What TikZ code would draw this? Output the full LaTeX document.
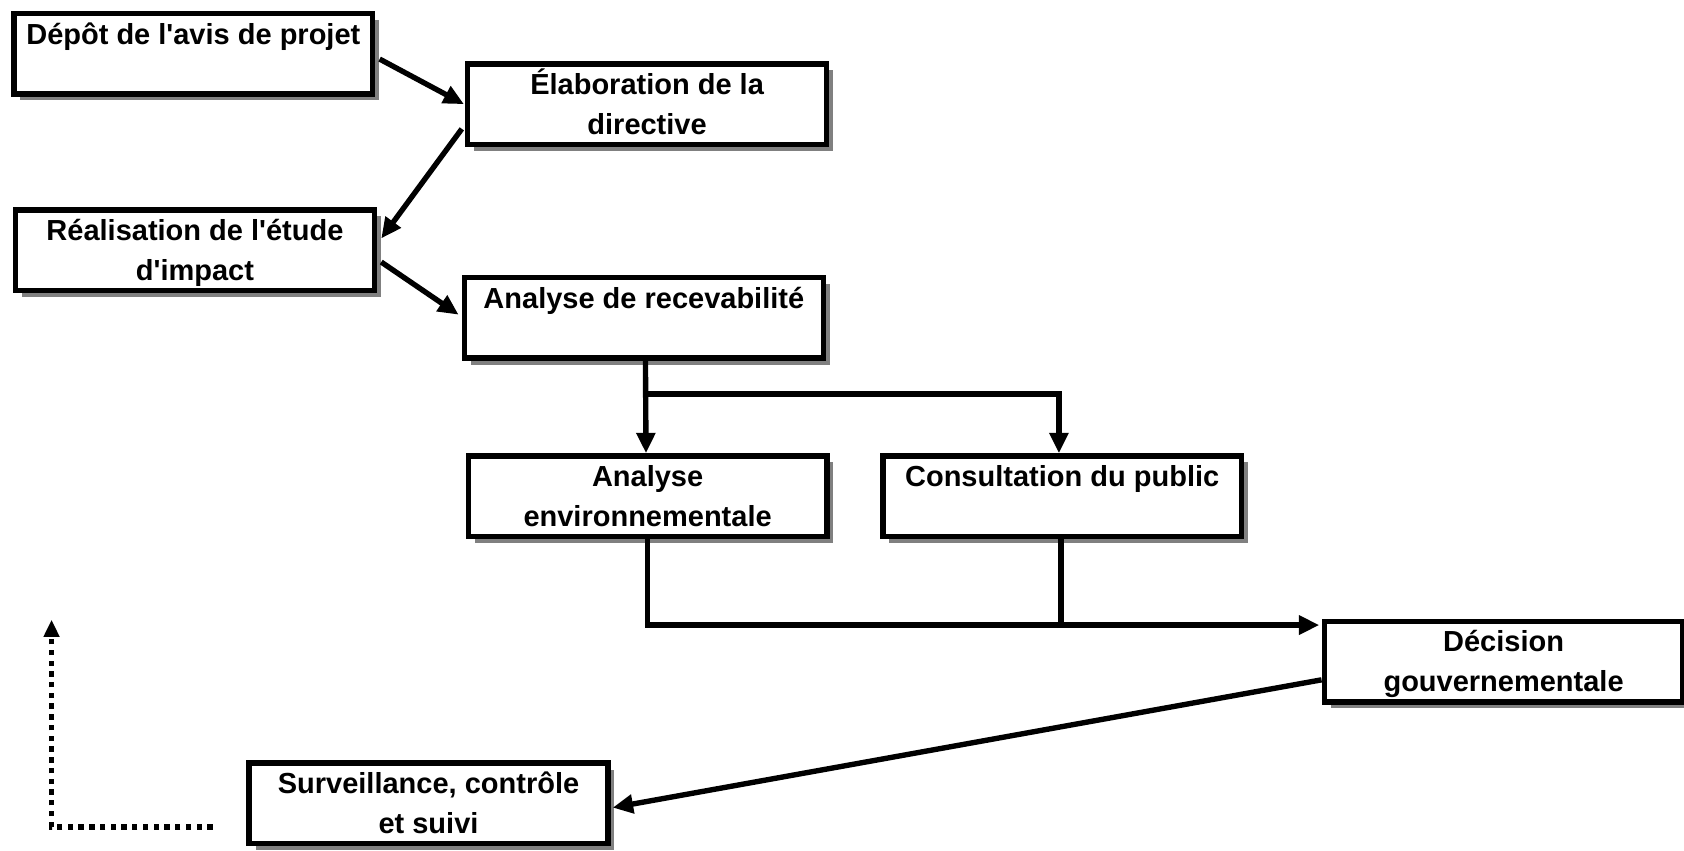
\documentclass[tikz,border=0pt]{standalone}
\usepackage{fontspec}
\setmainfont{Liberation Sans}
\usetikzlibrary{arrows.meta,calc,shadows}
\begin{document}
\begin{tikzpicture}[x=1pt,y=-1pt,
  procbox/.style={draw=black,line width=5pt,fill=white,minimum width=334pt,minimum height=75pt,inner sep=0pt,
    drop shadow={shadow xshift=6pt,shadow yshift=-6pt,fill=black!50,opacity=1}},
  lbl/.style={font=\fontsize{27}{37}\selectfont\bfseries,align=center,anchor=base,inner sep=0pt},
  conn/.style={line width=5pt,-{Triangle[length=19pt,width=17pt]}},
  plainline/.style={line width=5pt},
  dots/.style={line width=5pt,dash pattern=on 5pt off 5pt,-{Triangle[length=16pt,width=14pt]}}]
\useasboundingbox (0,0) rectangle (1568,792);
\fill[white] (0,0) rectangle (1568,792);
\node[procbox] (dep) at (180,50) {};
\node[lbl] (tdep) at ($(dep.north)+(0,31)$) {Dépôt de l\textquotesingle avis de projet};
\node[procbox] (elab) at (602.5,97) {};
\node[lbl] (telab) at ($(elab.north)+(0,68)$) {Élaboration de la\\directive};
\node[procbox] (real) at (181.5,233) {};
\node[lbl] (treal) at ($(real.north)+(0,68)$) {Réalisation de l\textquotesingle étude\\d\textquotesingle impact};
\node[procbox] (rec) at (599.5,296) {};
\node[lbl] (trec) at ($(rec.north)+(0,31)$) {Analyse de recevabilité};
\node[procbox] (env) at (603,462) {};
\node[lbl] (tenv) at ($(env.north)+(0,68)$) {Analyse\\environnementale};
\node[procbox] (cons) at (989,462) {};
\node[lbl] (tcons) at ($(cons.north)+(0,31)$) {Consultation du public};
\node[procbox] (dec) at (1400,616) {};
\node[lbl] (tdec) at ($(dec.north)+(0,68)$) {Décision\\gouvernementale};
\node[procbox] (surv) at (399,748) {};
\node[lbl] (tsurv) at ($(surv.north)+(0,68)$) {Surveillance, contrôle\\et suivi};

\draw[conn] ($(dep.east)+(4,5)$) -- ($(elab.west)+(-1,0)$);
\draw[conn] ($(elab.west)+(-3,23)$) -- ($(real.east)+(4,-11)$);
\draw[conn] ($(real.east)+(4,11)$) -- ($(rec.west)+(-3,-3)$);
\draw[conn] ($(rec.south)+(1.5,0)$) -- ($(env.north)+(-1.5,0)$);
\coordinate (br) at ($(rec.south)+(1.5,31)$);
\draw[conn] (br) -| ($(cons.north)+(-3,0)$);
\coordinate (jn) at ($(env.south)+(0,80)$);
\draw[conn] (env.south) -- (jn) -- ($(jn -| dec.west)+(-2,0)$);
\draw[plainline] ($(cons.south)+(-1,0)$) -- ($(cons.south |- jn)+(-1,0)$);
\draw[conn] ($(dec.west)+(0,17)$) -- ($(surv.east)+(2,4)$);
\coordinate (d1) at (198,770);
\coordinate (d2) at (48,770);
\coordinate (d3) at (48,577);
\draw[dots] (d1) -- (d2) -- (d3);
\end{tikzpicture}
\end{document}
